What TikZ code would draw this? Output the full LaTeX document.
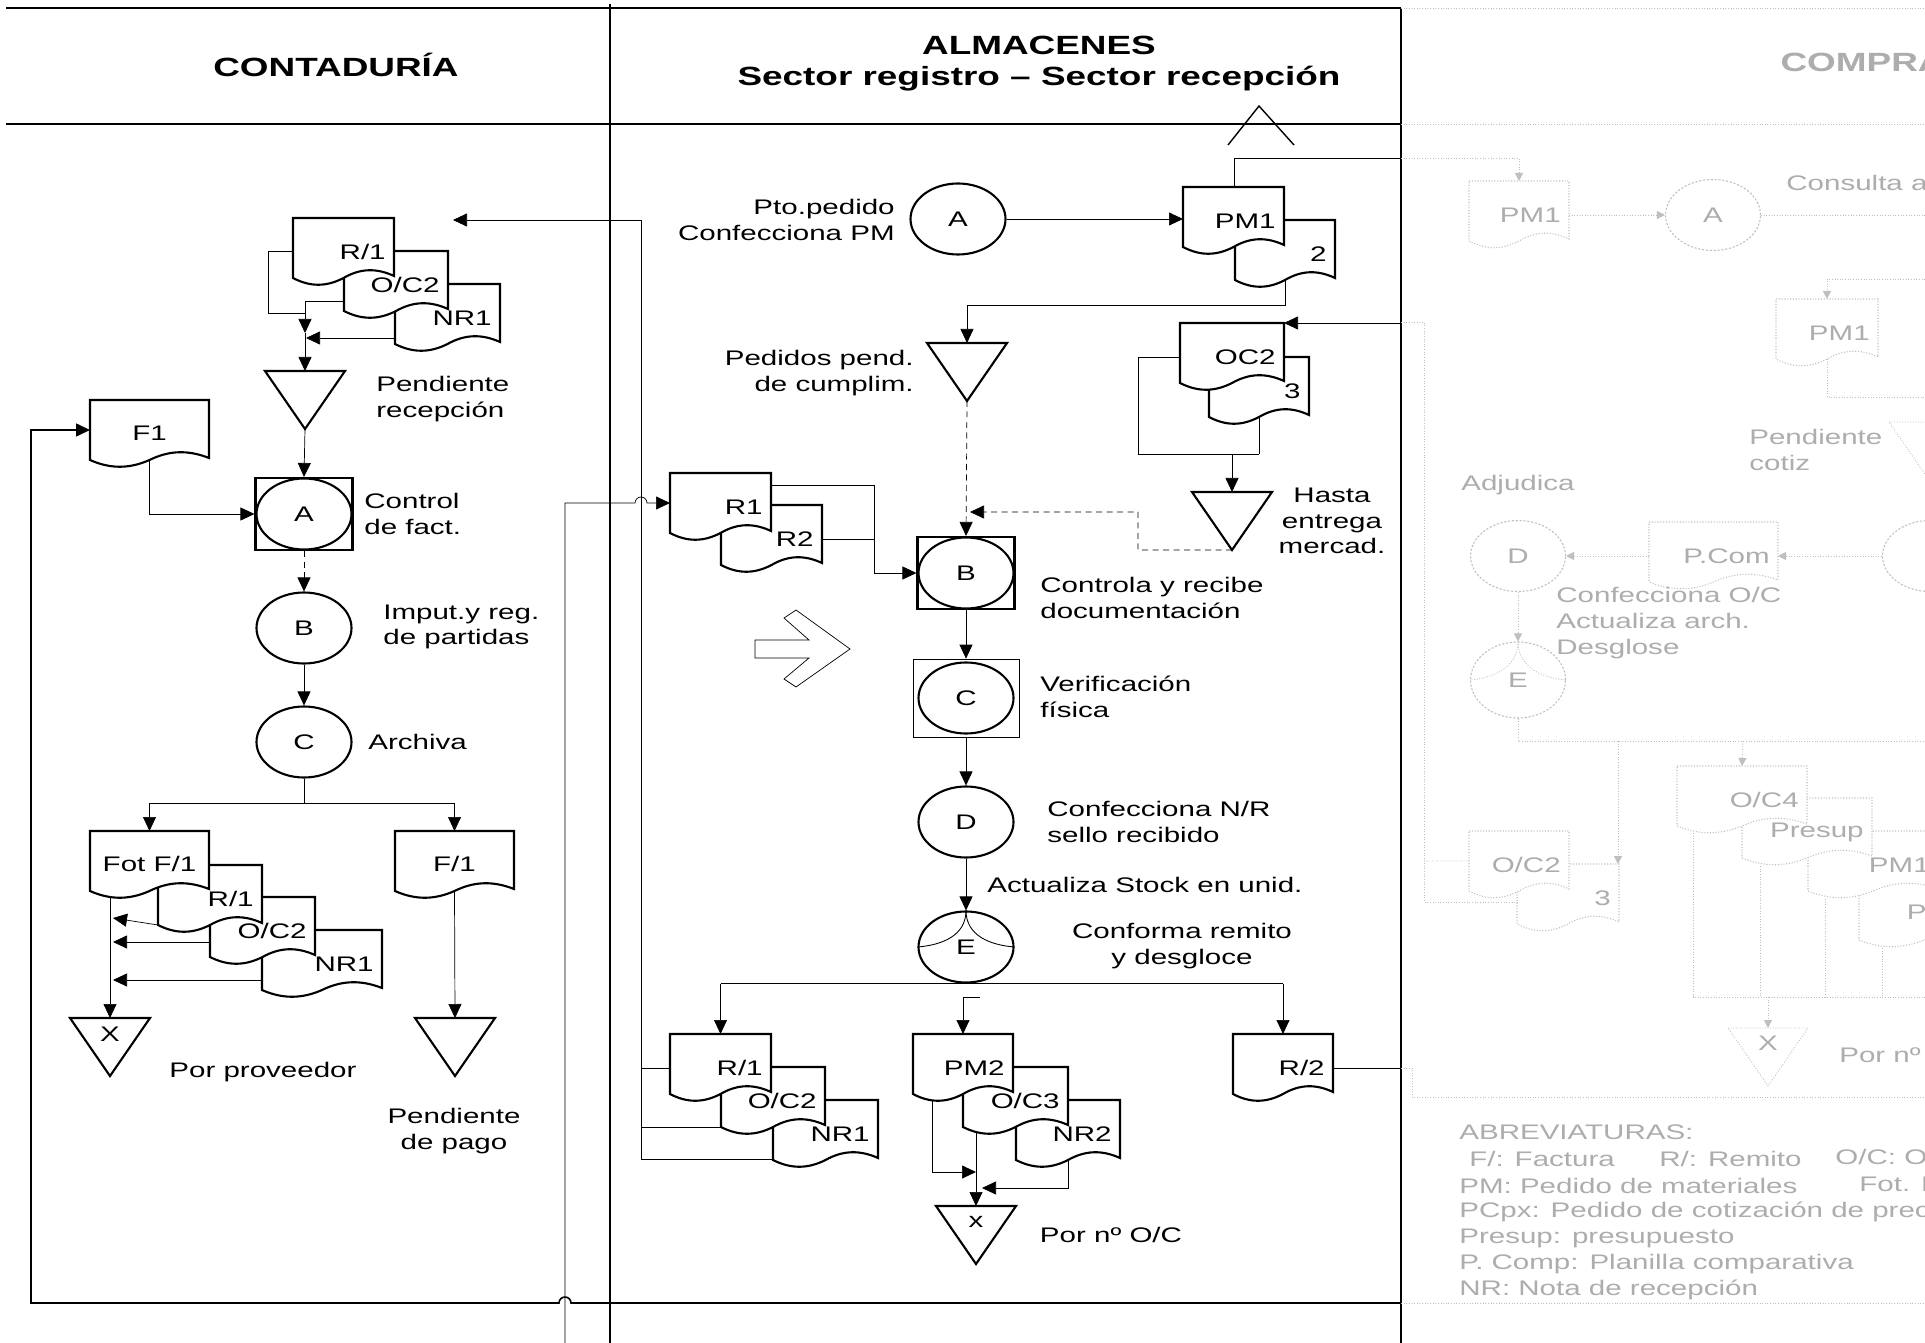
\documentclass[tikz,border=0pt]{standalone}
\usepackage{fontspec}
\setmainfont{Liberation Sans}[FakeStretch=1.4]
\usetikzlibrary{arrows.meta, calc, positioning, shapes.geometric}

\pgfdeclarelayer{fg}
\pgfsetlayers{main,fg}

\tikzset{
  shapeline/.style={line width=1.2pt},
  docline/.style={line width=1.2pt, fill=white},
  doctext/.style={},
  fline/.style={draw=black!25, densely dotted, line width=0.5pt},
  fconn/.style={fline, -{Triangle[length=1.6mm,width=1.6mm]}},
  fdocline/.style={fline, line width=0.6pt, fill=white},
  fdoctext/.style={text=black!32},
  ftext/.style={text=black!32},
  docbox/.style={rectangle, inner sep=0pt, outer sep=0pt, minimum height=12mm},
  tribox/.style={rectangle, inner sep=0pt, outer sep=0pt, anchor=north, minimum width=16mm, minimum height=11.6mm},
  proc/.style={ellipse, draw, line width=1.2pt, minimum width=19mm, minimum height=14.2mm, inner sep=0pt},
  fproc/.style={proc, draw=black!25, densely dotted, line width=0.6pt, text=black!32},
  procbox/.style={rectangle, draw, line width=1.2pt, minimum width=19.4mm, minimum height=14.4mm},
  conn/.style={->},
  dashconn/.style={->, dash pattern=on 1.2mm off 0.9mm},
  head/.style={font=\fontsize{15}{18}\selectfont\bfseries},
}

\newcommand{\docu}[6][]{%
  \draw[#1docline] (#3,#4) -- ++(#5,0) -- ++(0,58)
    .. controls +(-0.17*#5,-8) and +(0.17*#5,-10) .. ++(-0.5*#5,2)
    .. controls +(-0.17*#5,9) and +(0.17*#5,9) .. ++(-0.5*#5,0) -- cycle;
  \node[docbox, minimum width=#5*0.2mm, anchor=north west] (#2) at (#3,#4) {};
  \begin{pgfonlayer}{fg}
    \node[#1doctext, anchor=east] at ($(#2.north east)+(-8,34)$) {#6};
  \end{pgfonlayer}}

\newcommand{\docuc}[5]{%
  \draw[docline] (#2,#3) -- ++(#4,0) -- ++(0,58)
    .. controls +(-0.17*#4,-8) and +(0.17*#4,-10) .. ++(-0.5*#4,2)
    .. controls +(-0.17*#4,9) and +(0.17*#4,9) .. ++(-0.5*#4,0) -- cycle;
  \node[docbox, minimum width=#4*0.2mm, anchor=north west] (#1) at (#2,#3) {};
  \begin{pgfonlayer}{fg}
    \node at ($(#1.north)+(0,33)$) {#5};
  \end{pgfonlayer}}

\newcommand{\stocktri}[4][shapeline]{%
  \node[tribox] (#2) at (#3,#4) {};
  \draw[#1] (#2.north west) -- (#2.north east) -- (#2.south) -- cycle;}

\begin{document}
\begin{tikzpicture}[x=0.2mm, y=-0.2mm, line width=0.6pt, inner sep=0pt,
    >={Triangle[length=2.8mm,width=2.6mm]}, font=\fontsize{12}{14.7}\selectfont]
  \useasboundingbox (0,0) rectangle (1925,1343);
  \fill[white] (0,0) rectangle (1925,1343);
  \clip (0,0) rectangle (1925,1343);

  \draw[line width=1.6pt] (6,8) -- (1401,8);
  \draw[line width=1.6pt] (6,124) -- (1401,124);
  \draw[line width=1.2pt] (610,4) -- (610,1343);
  \draw[line width=1.1pt] (1401,8) -- (1401,1343);
  \draw[fline] (1401,8) -- (1925,8);
  \draw[fline] (1401,124) -- (1925,124);

  \node[head] (hCont) at (336,65) {CONTADURÍA};
  \node[head] (hAlm) at (1039,45) {ALMACENES};
  \node[head] (hSect) at (1039,79) {Sector registro – Sector recepción};
  \node[head, ftext, anchor=west] (hComp) at (1780,62) {COMPRAS};
  \draw[line width=0.8pt] (1228,145) -- (1259,106) -- (1294,145);

  \docu{cNR1}{395}{284}{105}{NR1}
  \docu{cOC2}{344}{251}{104}{O/C2}
  \docu{cR1}{293}{218}{101}{R/1}
  \draw ($(cR1.north west)+(0,33)$) -- (268,251) |- (305,313);
  \draw[conn] ($(cOC2.north west)+(0,50)$) -| (305,333);
  \draw[conn] ($(cNR1.north west)+(0,54)$) -- (306,338);
  \stocktri{cPR}{305}{371}
  \draw[conn] (305,333) -- (cPR.north);
  \node[anchor=west, align=left] (cPRl) at (376,399) {Pendiente\\recepción};

  \docuc{cF1}{90}{400}{119}{F1}
  \node[procbox] (cA) at (304,514) {};
  \node[proc] (cAe) at (304,514) {A};
  \draw[conn] (cF1.south) |- (cA.west);
  \draw[conn] (cPR.south) -- (cA.north);
  \node[anchor=west, align=left] (cAl) at (364,514) {Control\\de fact.};
  \node[proc] (cB) at (304,628) {B};
  \draw[dashconn] (cA.south) -- (cB.north);
  \node[anchor=west, align=left] (cBl) at (383,627) {Imput.y reg.\\de partidas};
  \node[proc] (cC) at (304,742) {C};
  \draw[conn] (cB.south) -- (cC.north);
  \node[anchor=west] (cCl) at (368,742) {Archiva};

  \docu{cNR1b}{262}{930}{120}{NR1}
  \docu{cOC2b}{210}{897}{105}{O/C2}
  \docu{cR1b}{158}{865}{104}{R/1}
  \docuc{cFot}{90}{831}{119}{Fot F/1}
  \docuc{cFa}{395}{831}{119}{F/1}
  \coordinate (cSplit) at (304,803);
  \draw (cC.south) -- (cSplit);
  \draw[conn] (cSplit) -| (cFot.north);
  \draw[conn] (cSplit) -| (cFa.north);
  \stocktri{cX}{110}{1018}
  \node (cXl) at (110,1034) {X};
  \draw[conn] ($(cFot.south west)+(20,7)$) -- (cX.north);
  \draw[conn] (cR1b.south west) -- (113,918);
  \draw[conn] ($(cOC2b.north west)+(0,45)$) -- (113,942);
  \draw[conn] ($(cNR1b.north west)+(0,50)$) -- (113,980);
  \node (cXt) at (263,1072) {Por proveedor};
  \stocktri{cPP}{455}{1018}
  \draw[conn] (cFa.south) -- (cPP.north);
  \node[align=center] (cPPl) at (454,1131) {Pendiente\\de pago};

  \node[proc] (aA) at (958,219) {A};
  \node[anchor=east, align=right] (aAl) at (895,220) {Pto.pedido\\Confecciona PM};
  \docu{a2}{1235}{220}{100}{2}
  \docu{aPM1}{1183}{187}{101}{PM1}
  \draw[conn] (aA.east) -- (aA.east -| aPM1.west);
  \draw ($(aPM1.north west)+(51,0)$) |- (1401,158);
  \stocktri{aPP}{967}{343}
  \draw[conn] (a2.south) -- (1285,305) -| (aPP.north);
  \node[anchor=east, align=right] (aPPl) at (914,373) {Pedidos pend.\\de cumplim.};

  \docu{a3}{1209}{357}{100}{3}
  \docu{aOC2}{1180}{323}{104}{OC2}
  \draw[conn] (1401,323) -- (aOC2.north east);
  \draw ($(aOC2.north west)+(0,34)$) -- (1138,357) -- (1138,454) -- (1259,454);
  \draw (a3.south) -- (1259,454);
  \stocktri{aHE}{1232}{492}
  \draw[conn] (1232,454) -- (aHE.north);
  \node[align=center] (aHEl) at (1332,521) {Hasta\\entrega\\mercad.};

  \docu{aR2}{721}{505}{101}{R2}
  \docu{aR1}{670}{473}{101}{R1}
  \node[procbox] (aBb) at (966,573) {};
  \node[proc] (aB) at (966,573) {B};
  \draw[dashconn] (aPP.south) -- (aBb.north);
  \draw[dashconn] (aHE.south) -- (1138,550) -- (1138,512) -- (970,512);
  \draw[conn] ($(aR1.north east)+(0,12)$) -| (874,573) -- (aBb.west);
  \draw ($(aR2.north east)+(0,34)$) -- (874,539);
  \node[anchor=west, align=left] (aBl) at (1040,598) {Controla y recibe\\documentación};
  \draw[conn] (565,1343) -- (565,503) -- (635,503) arc[start angle=180, end angle=360, radius=6] -- (aR1.west);

  \draw (755,640) -- (809,640) -- (784,618) -- (796,610) -- (850,649) -- (796,687)
    -- (784,679) -- (809,658) -- (755,658) -- cycle;

  \node[draw, minimum width=21.2mm, minimum height=15.6mm] (aCb) at (966,698) {};
  \node[proc] (aC) at (966,698) {C};
  \draw[conn] (aBb.south) -- (aCb.north);
  \node[anchor=west, align=left] (aCl) at (1040,697) {Verificación\\física};
  \node[proc] (aD) at (966,822) {D};
  \draw[conn] (aCb.south) -- (aD.north);
  \node[anchor=west, align=left] (aDl) at (1047,822) {Confecciona N/R\\sello recibido};
  \node[proc] (aE) at (966,947) {E};
  \draw[conn] (aD.south) -- (aE.north);
  \node[anchor=west] (aDEl) at (987,885) {Actualiza Stock en unid.};
  \draw[line width=0.5pt] (aE.north) .. controls +(0,25) and +(25,-2) .. (aE.west);
  \draw[line width=0.5pt] (aE.north) .. controls +(0,25) and +(-25,-2) .. (aE.east);
  \node[align=center] (aEl) at (1182,946) {Conforma remito\\y desgloce};

  \docu{aNR1b}{773}{1100}{105}{NR1}
  \docu{aOC2b}{721}{1067}{104}{O/C2}
  \docu{aR1b}{670}{1034}{101}{R/1}
  \docu{aNR2}{1016}{1100}{104}{NR2}
  \docu{aOC3}{963}{1067}{105}{O/C3}
  \docu{aPM2}{913}{1034}{100}{PM2}
  \docu{aR2b}{1233}{1034}{100}{R/2}
  \draw (aR1b.north |- aE.south) -- (aR2b.north |- aE.south);
  \draw[conn] (aR1b.north |- aE.south) -- (aR1b.north);
  \draw[conn] (aR2b.north |- aE.south) -- (aR2b.north);
  \draw[conn] (980,997) -- (963,997) -- (aPM2.north);
  \coordinate (cRet) at (453,220);
  \draw[conn] ($(aNR1b.north west)+(0,59)$) -- (641,1159) -- (641,220) -- (cRet);
  \draw ($(aOC2b.north west)+(0,60)$) -- (641,1127);
  \draw ($(aR1b.north west)+(0,34)$) -- (641,1068);
  \stocktri{aX}{976}{1206}
  \node (aXl) at (976,1222) {x};
  \draw[conn] ($(aPM2.south west)+(19,6)$) -- (932,1172) -- (976,1172);
  \draw[conn] ($(aOC3.south west)+(13,4)$) -- (aX.north);
  \draw[conn] (aNR2.south) -- (1068,1188) -- (982,1188);
  \node (aXt) at (1111,1235) {Por nº O/C};
  \draw ($(aR2b.north east)+(0,34)$) -- (1401,1068);
  \draw[line width=0.9pt, conn] (1401,1303) -- (571,1303) arc[start angle=0, end angle=-180, radius=6]
    -- (31,1303) -- (31,430) -- (cF1.west);

  \draw[fline] (1401,1068) -- (1412,1068) -- (1412,1097) -- (1925,1097);
  \draw[fline] (1401,1303) -- (1925,1303);
  \docu[f]{fPM1}{1469}{181}{100}{PM1}
  \draw[fconn] (1401,158) -| (fPM1.north);
  \node[fproc] (fA) at (1713,215) {A};
  \draw[fconn] (fA.west -| fPM1.east) -- (fA.west);
  \draw[fline] (fA.east) -- (1925,215);
  \node[ftext, anchor=west] (fAl) at (1786,185) {Consulta a proveedores};
  \docu[f]{fPM1b}{1776}{299}{102}{PM1}
  \draw[fconn] (1925,279) -| (fPM1b.north);
  \draw[fline] (fPM1b.south) -- (1827,397) -- (1925,397);
  \node[ftext, anchor=west, align=left] (fPendl) at (1749,450) {Pendiente\\cotiz};
  \stocktri[fline]{fPend}{1929}{422}
  \node[ftext, anchor=west] (fDt) at (1461,485) {Adjudica};
  \node[fproc] (fD) at (1518,556) {D};
  \docu[f]{fPCom}{1649}{522}{129}{P.Com}
  \node[fproc] (fF) at (1930,556) {};
  \draw[fconn] (fD.east -| fPCom.west) -- (fD.east);
  \draw[fconn] (fF.west) -- (fF.west -| fPCom.east);
  \node[ftext, anchor=west, align=left] (fDl) at (1556,623) {Confecciona O/C\\Actualiza arch.\\Desglose};
  \node[fproc, minimum height=15.2mm] (fE) at (1518,680) {E};
  \draw[fconn] (fD.south) -- (fE.north);
  \draw[fline] (fE.north) .. controls +(0,25) and +(25,-2) .. (fE.west);
  \draw[fline] (fE.north) .. controls +(0,25) and +(-25,-2) .. (fE.east);
  \draw[fline] (fE.south) -- (1518,741) -- (1925,741);

  \docu[f]{f3}{1517}{864}{102}{3}
  \docu[f]{fOC2}{1469}{831}{100}{O/C2}
  \draw[fconn] (1618,741) -- (1618,864);
  \draw[fline] (1401,322) -- (1424,322) -- (1424,902) -- (1517,902);
  \draw[fline] (1424,861) -- (fOC2.west);
  \docu[f]{fPC}{1859}{880}{130}{PCp1}
  \docu[f]{fPM1c}{1808}{831}{130}{PM1}
  \docu[f]{fPres}{1742}{798}{130}{Presup}
  \docu[f]{fOC4}{1677}{766}{130}{O/C4}
  \draw[fconn] (1743,741) -- (fOC4.north);
  \draw[fline] (1693,833) -- (1693,997) -- (1925,997);
  \draw[fline] (1760,866) -- (1760,997);
  \draw[fline] (1825,899) -- (1825,997);
  \draw[fline] (1882,948) -- (1882,997);
  \stocktri[fline]{fX}{1768}{1028}
  \draw[fconn] (1768,997) -- (fX.north);
  \node[ftext] (fXl) at (1768,1043) {X};
  \node[ftext, anchor=west] (fXt) at (1839,1055) {Por nº O/C};

  \node[ftext, anchor=west] (ab0) at (1459,1132) {ABREVIATURAS:};
  \node[ftext, anchor=west] (ab1) at (1469,1159) {F/: Factura};
  \node[ftext, anchor=west] (ab2) at (1659,1159) {R/: Remito};
  \node[ftext, anchor=west] (ab3) at (1835,1159) {O/C: Orden de compra};
  \node[ftext, anchor=west] (ab4) at (1459,1186) {PM: Pedido de materiales};
  \node[ftext, anchor=west] (ab5) at (1859,1186) {Fot. F/: Fotocopia};
  \node[ftext, anchor=west] (ab6) at (1459,1212) {PCpx: Pedido de cotización de precios};
  \node[ftext, anchor=west] (ab7) at (1459,1238) {Presup: presupuesto};
  \node[ftext, anchor=west] (ab8) at (1459,1264) {P. Comp: Planilla comparativa};
  \node[ftext, anchor=west] (ab9) at (1459,1290) {NR: Nota de recepción};
\end{tikzpicture}
\end{document}
